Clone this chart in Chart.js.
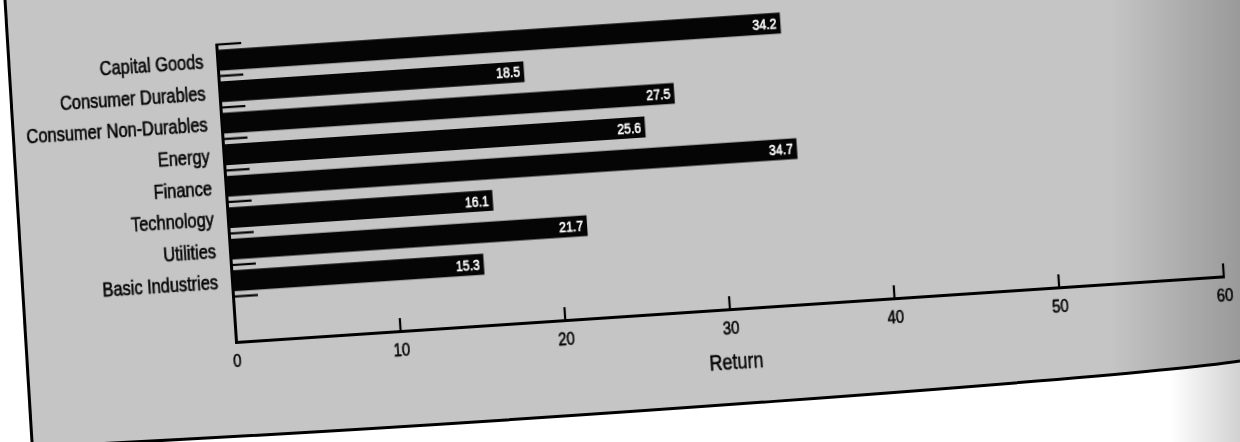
<!DOCTYPE html>
<html>
<head>
<meta charset="utf-8">
<script src="https://cdn.jsdelivr.net/npm/chart.js@4.4.1/dist/chart.umd.min.js"></script>
<style>
  html, body { margin: 0; padding: 0; }
  body { width: 1240px; height: 442px; overflow: hidden; background: #fff; position: relative; }
  #page { position: absolute; left: 0; top: 0; }
  #wrap {
    position: absolute; left: 16px; top: 24px; width: 1240px; height: 408px;
    transform-origin: 220px 318px; transform: rotate(-3.8deg);
  }
  #c { display: block; }
</style>
</head>
<body>
<svg id="page" width="1240" height="442" viewBox="0 0 1240 442">
  <defs>
    <linearGradient id="edge" x1="1110" y1="0" x2="1240" y2="0" gradientUnits="userSpaceOnUse">
      <stop offset="0" stop-color="#000" stop-opacity="0"/>
      <stop offset="1" stop-color="#000" stop-opacity="0.22"/>
    </linearGradient>
    <linearGradient id="edgeLow" x1="1170" y1="0" x2="1240" y2="0" gradientUnits="userSpaceOnUse">
      <stop offset="0" stop-color="#000" stop-opacity="0"/>
      <stop offset="1" stop-color="#000" stop-opacity="0.18"/>
    </linearGradient>
  </defs>
  <rect x="1170" y="340" width="70" height="102" fill="url(#edgeLow)"/>
  <path d="M5,0 L1240,0 L1240,361 C1140,376 500,425 32,447 Z" fill="#c5c5c5"/>
  <path d="M5,0 L1240,0 L1240,361 C1140,376 500,425 32,447 Z" fill="url(#edge)"/>
  <path d="M5,0 L32.3,447" stroke="#000" stroke-width="3" fill="none"/>
  <path d="M1240,361 C1140,376 500,425 32,447" stroke="#000" stroke-width="3" fill="none"/>
</svg>
<div id="wrap"><canvas id="c" width="1240" height="408"></canvas></div>
<script>
// Sector returns, one bar per sector
const categories = ['Capital Goods', 'Consumer Durables', 'Consumer Non-Durables', 'Energy',
                    'Finance', 'Technology', 'Utilities', 'Basic Industries'];
const returns = [34.2, 18.5, 27.5, 25.6, 34.7, 16.1, 21.7, 15.3];
const xTicks = [0, 10, 20, 30, 40, 50, 60];
const axisTitle = 'Return';

const FAMILY = "'Liberation Sans', Arial, Helvetica, sans-serif";
const INK = '#050505';
const NARROW = 0.82; // horizontal squeeze for a condensed grotesque look

function condensedText(ctx, text, x, y, size, align, color) {
  ctx.save();
  ctx.translate(x, y);
  ctx.scale(NARROW, 1);
  ctx.font = size + 'px ' + FAMILY;
  ctx.fillStyle = color;
  ctx.strokeStyle = color;
  ctx.lineWidth = 0.6;
  ctx.lineJoin = 'round';
  ctx.textAlign = align;
  ctx.textBaseline = 'middle';
  ctx.fillText(text, 0, 0);
  ctx.strokeText(text, 0, 0);
  ctx.restore();
}

// Short boundary marks on the sector axis, inward ticks on the value axis, and axis text
const axisMarks = {
  id: 'axisMarks',
  afterDraw(chart) {
    const { ctx, chartArea: a, scales: { x, y } } = chart;
    ctx.save();
    ctx.strokeStyle = '#000';
    ctx.lineWidth = 2.2;
    for (let i = 0; i <= categories.length; i++) {
      const py = y.getPixelForValue(i - 0.5);
      ctx.beginPath();
      ctx.moveTo(a.left, py);
      ctx.lineTo(a.left + 25, py);
      ctx.stroke();
    }
    xTicks.forEach(v => {
      if (v === xTicks[0]) return;
      const px = x.getPixelForValue(v);
      ctx.beginPath();
      ctx.moveTo(px, a.bottom);
      ctx.lineTo(px, a.bottom - 13);
      ctx.stroke();
    });
    ctx.restore();

    categories.forEach((c, i) => {
      condensedText(ctx, c, a.left - 14, y.getPixelForValue(i) + 2, 20, 'right', INK);
    });
    xTicks.forEach(v => {
      condensedText(ctx, String(v), x.getPixelForValue(v), a.bottom + 20, 18, 'center', INK);
    });
    condensedText(ctx, axisTitle, (a.left + a.right) / 2 + 3, a.bottom + 54, 22, 'center', INK);
  }
};

// White value text at the end of each bar
const barValues = {
  id: 'barValues',
  afterDatasetsDraw(chart) {
    const meta = chart.getDatasetMeta(0);
    meta.data.forEach((bar, i) => {
      condensedText(chart.ctx, returns[i].toFixed(1), bar.x - 4, bar.y + 1, 15, 'right', '#fff');
    });
  }
};

new Chart(document.getElementById('c'), {
  type: 'bar',
  data: {
    datasets: [{
      data: categories.map((c, i) => ({ x: returns[i], y: i })),
      backgroundColor: '#050505',
      borderWidth: 0,
      categoryPercentage: 1,
      barPercentage: 0.66
    }]
  },
  options: {
    indexAxis: 'y',
    responsive: false,
    animation: false,
    devicePixelRatio: 1,
    layout: { padding: { left: 0, right: 30, top: 20, bottom: 10 } },
    plugins: { legend: { display: false }, tooltip: { enabled: false } },
    scales: {
      x: {
        type: 'linear',
        min: xTicks[0],
        max: xTicks[xTicks.length - 1],
        offset: false,
        afterBuildTicks: s => { s.ticks = xTicks.map(v => ({ value: v })); },
        afterFit: s => { s.height = 80; },
        ticks: { display: false },
        grid: { drawOnChartArea: false, drawTicks: false, offset: false },
        border: { color: '#000', width: 3 }
      },
      y: {
        type: 'linear',
        reverse: true,
        min: -0.5,
        max: 8.94,
        offset: false,
        afterBuildTicks: s => { s.ticks = categories.map((c, i) => ({ value: i })); },
        afterFit: s => { s.width = 220; },
        ticks: { display: false },
        grid: { drawOnChartArea: false, drawTicks: false, offset: false },
        border: { color: '#000', width: 3 }
      }
    }
  },
  plugins: [axisMarks, barValues]
});
</script>
</body>
</html>
